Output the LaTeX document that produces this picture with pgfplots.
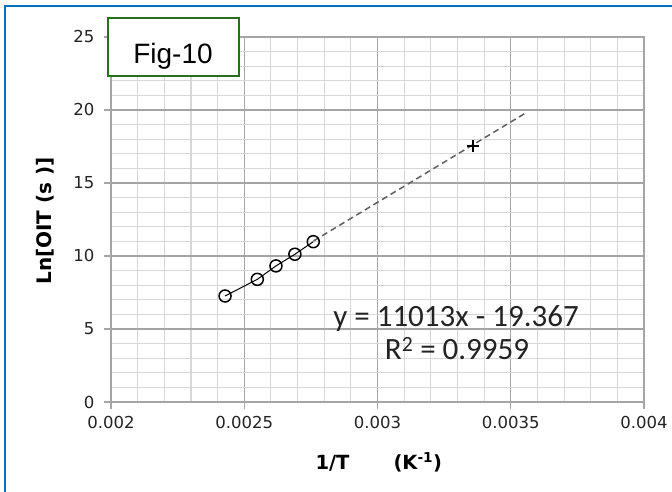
\documentclass[border=0pt]{standalone}
\usepackage{pgfplots}
\pgfplotsset{compat=1.18}
\usepackage{fontspec}
\setmainfont{DejaVu Sans}
\newfontfamily\calibri{Carlito}
\newfontfamily\arialf{Liberation Sans}
\definecolor{framebl}{RGB}{0,112,192}
\definecolor{figgreen}{RGB}{40,110,30}
\definecolor{majgrid}{RGB}{165,165,165}
\definecolor{mingrid}{RGB}{215,215,215}
\definecolor{txtgray}{RGB}{35,35,35}
\begin{document}
\begin{tikzpicture}[x=1bp,y=1bp]
\useasboundingbox (0,0) rectangle (672,492);
\fill[white] (0,0) rectangle (672,492);
\begin{axis}[
  at={(111bp,90bp)}, anchor=south west,
  scale only axis, width=533bp, height=365bp,
  xmin=0.002, xmax=0.004, ymin=0, ymax=25,
  xtick={0.002,0.0025,0.003,0.0035,0.004},
  xticklabels={0.002,0.0025,0.003,0.0035,0.004},
  ytick={0,5,10,15,20,25},
  yticklabels={0,5,10,15,20,25},
  scaled x ticks=false,
  minor x tick num=4, minor y tick num=4,
  grid=both,
  major grid style={majgrid, line width=1.3bp},
  minor grid style={mingrid, line width=1.1bp},
  axis line style={majgrid, line width=1.3bp},
  tick align=outside, major tick length=7bp, minor tick length=0pt,
  tick pos=left,
  major tick style={majgrid, line width=1.3bp},
  tick label style={font=\fontsize{16.5bp}{18bp}\selectfont, text=txtgray},
  xticklabel style={yshift=-4bp},
  yticklabel style={xshift=-6bp},
]
\addplot[gray!75!black, line width=1.5bp, dash pattern=on 6bp off 4bp] coordinates {(0.00276,11.03) (0.00356,19.84)};
\addplot[black, line width=1bp, mark=o, mark size=6bp, mark options={line width=1.5bp, fill=none, solid}] coordinates {
(0.002428,7.26) (0.002549,8.40) (0.002619,9.32) (0.002690,10.12) (0.002759,10.98)};
\addplot[only marks, black, mark=+, mark size=6bp, mark options={line width=1.5bp}] coordinates {(0.003358,17.53)};
\end{axis}
\draw[figgreen, line width=2.2bp, fill=white] (107.7,416) rectangle (239,474.3);
\node[font=\arialf\fontsize{28bp}{30bp}\selectfont, anchor=base] at (173,428.7) {Fig-10};
\node[font=\calibri\fontsize{31bp}{33bp}\selectfont, anchor=base, text=txtgray] at (456,165) {y = 11013x - 19.367};
\node[font=\calibri\fontsize{31bp}{33bp}\selectfont, anchor=base, text=txtgray] at (457,132) {R\textsuperscript{2} = 0.9959};
\node[font=\bfseries\fontsize{19.5bp}{20bp}\selectfont, anchor=base west, text=black] at (312,22) {1/T};
\node[font=\bfseries\fontsize{19.5bp}{20bp}\selectfont, anchor=base west, text=black] at (390,22) {(K\textsuperscript{-1})};
\node[rotate=90, font=\bfseries\fontsize{20bp}{21bp}\selectfont, text=black] at (45,271) {Ln[OIT (s )]};
\draw[framebl, line width=2.5bp] (5,-5) -- (5,486) -- (680,486);
\end{tikzpicture}
\end{document}
